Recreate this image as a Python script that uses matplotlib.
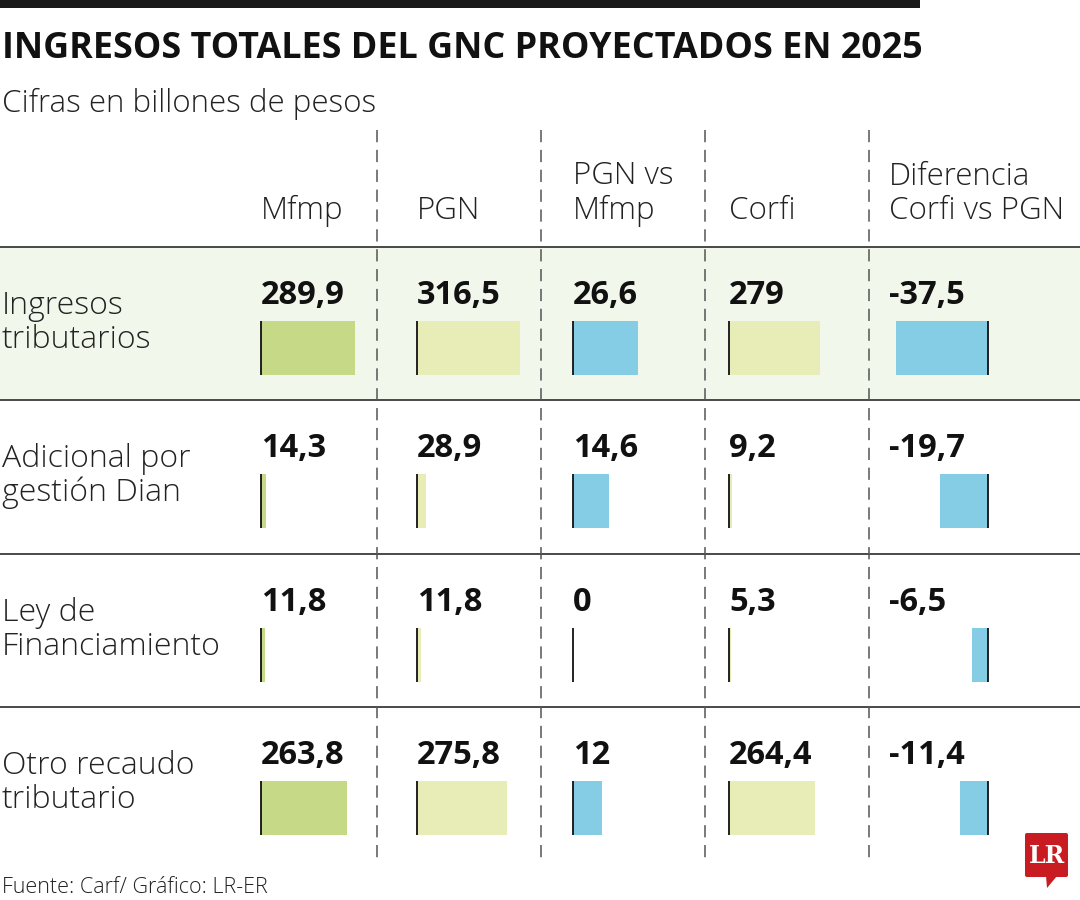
import numpy as np
import matplotlib
matplotlib.use("Agg")
import matplotlib.pyplot as plt
from matplotlib.patches import Rectangle, FancyBboxPatch, Polygon

# ── data ──────────────────────────────────────────────────────────
ROW_LABELS = ["Ingresos\ntributarios", "Adicional por\ngestión Dian",
              "Ley de\nFinanciamiento", "Otro recaudo\ntributario"]
COL_HEADERS = ["Mfmp", "PGN", "PGN vs\nMfmp", "Corfi", "Diferencia\nCorfi vs PGN"]

mfmp = [289.9, 14.3, 11.8, 263.8]
pgn = [316.5, 28.9, 11.8, 275.8]
pgn_vs_mfmp = [26.6, 14.6, 0, 12]
corfi = [279, 9.2, 5.3, 264.4]
dif_corfi_pgn = [-37.5, -19.7, -6.5, -11.4]

TITLE = "INGRESOS TOTALES DEL GNC PROYECTADOS EN 2025"
SUBTITLE = "Cifras en billones de pesos"
SOURCE = "Fuente: Carf/ Gráfico: LR-ER"

GREEN = "#c6d986"
YELLOW = "#e8ecb7"
BLUE = "#85cde5"
ROW_BG = "#f2f7eb"

FONT = "Open Sans"


def fmt(v):
    if float(v).is_integer():
        return str(int(v))
    return f"{v:.1f}".replace(".", ",")


# ── layout (pixel canvas) ─────────────────────────────────────────
fig = plt.figure(figsize=(10.8, 9), dpi=100)
ax = fig.add_axes([0, 0, 1, 1])
ax.set_xlim(0, 1080)
ax.set_ylim(900, 0)
ax.axis("off")

# top rule + titles
ax.add_patch(Rectangle((0, 0), 920, 8, color="#1a1a1a", lw=0))
ax.text(2, 58, TITLE, fontsize=25.8, fontweight="bold", family=FONT,
        color="#111111", va="baseline")
ax.text(2, 112, SUBTITLE, fontsize=22.5, fontweight="light", family=FONT,
        color="#222222", va="baseline")

row_tops = [247, 400, 554, 707]
row_h = 153
col_x = [261, 417, 573, 729, 889]
diff_anchor = 988
sep_x = [377, 541, 705, 869]

# first row shading
ax.add_patch(Rectangle((0, row_tops[0]), 1080, row_h, color=ROW_BG, lw=0, zorder=0))

# horizontal rules
for y in row_tops:
    ax.plot([0, 1080], [y, y], color="#3a3a3a", lw=1.3, zorder=2)

# dashed column separators
for x in sep_x:
    ax.plot([x, x], [130, 860], color="#555555", lw=1.1,
            dashes=(8, 5), zorder=2)

# column headers
for x, h in zip(col_x, COL_HEADERS):
    ax.text(x, 219, h, fontsize=22.5, fontweight="light", family=FONT,
            color="#222222", va="baseline", ha="left", linespacing=1.1)

# row labels
for top, lab in zip(row_tops, ROW_LABELS):
    ax.text(2, top + 76, lab, fontsize=23, fontweight="light", family=FONT,
            color="#222222", va="center", ha="left", linespacing=1.08)

# bars
scale_abs = 0.325   # px per unit, level columns
scale_dif = 2.45    # px per unit, difference columns
bar_h = 54
bar_y = np.array(row_tops) + 74 + bar_h / 2

series = [
    (mfmp, col_x[0], scale_abs, GREEN),
    (pgn, col_x[1], scale_abs, YELLOW),
    (pgn_vs_mfmp, col_x[2], scale_dif, BLUE),
    (corfi, col_x[3], scale_abs, YELLOW),
]
for vals, x0, sc, colr in series:
    vals = np.array(vals, dtype=float)
    ax.barh(bar_y, vals * sc, left=x0, height=bar_h, color=colr, lw=0, zorder=3)
    ax.vlines([x0] * len(vals), bar_y - bar_h / 2, bar_y + bar_h / 2,
              color="#111111", lw=1.3, zorder=4)
    for top, v in zip(row_tops, vals):
        ax.text(x0, top + 57, fmt(v), fontsize=23.5, fontweight="bold",
                family=FONT, color="#111111", va="baseline", ha="left")

dvals = np.array(dif_corfi_pgn, dtype=float)
ax.barh(bar_y, dvals * scale_dif, left=diff_anchor, height=bar_h,
        color=BLUE, lw=0, zorder=3)
ax.vlines([diff_anchor] * len(dvals), bar_y - bar_h / 2, bar_y + bar_h / 2,
          color="#111111", lw=1.3, zorder=4)
for top, v in zip(row_tops, dvals):
    ax.text(col_x[4], top + 57, fmt(v), fontsize=23.5, fontweight="bold",
            family=FONT, color="#111111", va="baseline", ha="left")

# source
ax.text(2, 893, SOURCE, fontsize=15.5, fontweight="light", family=FONT,
        color="#222222", va="baseline")

# LR logo
ax.add_patch(FancyBboxPatch((1025, 833), 43, 44,
                            boxstyle="round,pad=0,rounding_size=2",
                            color="#c81b22", lw=0, zorder=5))
ax.add_patch(Polygon([[1046, 876], [1057, 876], [1047, 888]],
                     closed=True, color="#c81b22", lw=0, zorder=5))
ax.text(1046.5, 856, "LR", fontsize=17, fontweight="bold",
        family="DejaVu Serif", color="white", ha="center", va="center", zorder=6)

fig.savefig("out.png", dpi=100, facecolor="white")
